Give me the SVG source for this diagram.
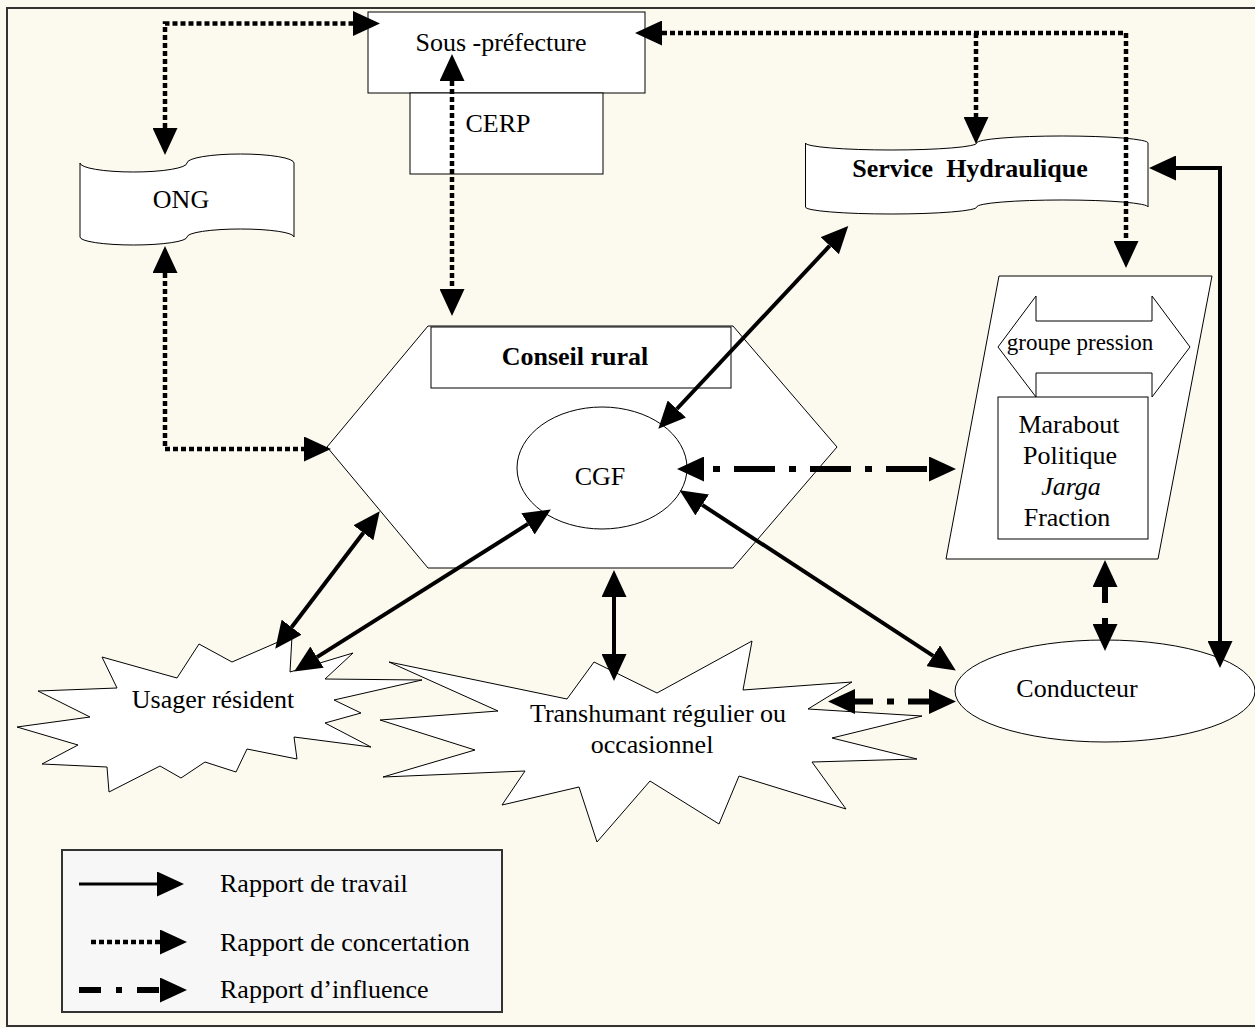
<svg xmlns="http://www.w3.org/2000/svg" width="1255" height="1028" viewBox="0 0 1255 1028">
<style>
.bg{fill:#FCFAEF}
.frame{fill:none;stroke:#333;stroke-width:2}
.node{fill:#fff;stroke:#000;stroke-width:1}
.t{font-family:"Liberation Serif","Times New Roman",serif;font-size:26px;fill:#000}
.b{font-weight:bold}
.solid{fill:none;stroke:#000;stroke-width:4}
.dot{fill:none;stroke:#000;stroke-width:4.5;stroke-dasharray:5 3}
.dd{fill:none;stroke:#000;stroke-width:6}
</style>
<defs>
<marker id="ah" markerUnits="userSpaceOnUse" markerWidth="27" markerHeight="25" refX="0" refY="12.5" orient="auto-start-reverse" viewBox="0 0 27 25">
<path d="M0,0 L27,12.5 L0,25 Z" fill="#000"/>
</marker>
</defs>
<rect class="bg" x="0" y="0" width="1255" height="1028"/>
<rect class="frame" x="7" y="8" width="1260" height="1018"/>

<g id="node-transhumant">
<polygon class="node" points="389,662 567,699 594,662 657,693 752,641 743,690 852,682 808,709 922,716 832,738 917,759 812,762 846,809 739,776 719,824 650,781 597,842 579,787 502,805 525,771 383,777 475,750 380,720 498,711"/>
<text class="t" x="658" y="722" text-anchor="middle">Transhumant régulier ou</text>
<text class="t" x="652" y="753" text-anchor="middle">occasionnel</text>
</g>

<g id="node-usager">
<polygon class="node" points="199,644 232,662 292,636 290,672 353,653 325,679 422,680 334,700 361,713 325,723 371,747 294,737 297,759 247,749 236,772 205,762 181,778 160,766 109,792 107,767 42,764 78,745 17,727 90,717 38,691 117,688 102,657 177,678"/>
<text class="t" x="213" y="708" text-anchor="middle">Usager résident</text>
</g>

<g id="node-sousprefecture">
<rect class="node" x="368" y="12" width="277" height="81"/>
<text class="t" x="501" y="51" text-anchor="middle">Sous -préfecture</text>
</g>

<g id="node-cerp">
<rect class="node" x="410" y="93" width="193" height="81"/>
<text class="t" x="498" y="132" text-anchor="middle">CERP</text>
</g>

<g id="node-ong">
<path class="node" d="M80,163 A53.5,9 0 0 0 187,163 A53.5,9 0 0 1 294,163 L294,237 A53.5,8 0 0 0 187,237 A53.5,8 0 0 1 80,237 Z"/>
<text class="t" x="181" y="208" text-anchor="middle">ONG</text>
</g>

<g id="node-service-hydraulique">
<path class="node" d="M805.5,143 A85.6,7 0 0 0 976.75,143 A85.6,7 0 0 1 1148,143 L1148,207 A85.6,7 0 0 0 976.75,207 A85.6,7 0 0 1 805.5,207 Z"/>
<text class="t b" x="970" y="177" text-anchor="middle" xml:space="preserve">Service  Hydraulique</text>
</g>

<g id="node-conseil-rural">
<polygon class="node" points="327,447 428,326 733,326 837,447 733,568 428,568"/>
<rect class="node" x="431" y="327" width="300" height="61"/>
<text class="t b" x="575" y="365" text-anchor="middle">Conseil rural</text>
</g>

<g id="node-cgf">
<ellipse class="node" cx="602" cy="468" rx="85" ry="61"/>
<text class="t" x="600" y="485" text-anchor="middle">CGF</text>
</g>

<g id="node-groupe-pression">
<polygon class="node" points="999,276 1212,276 1158,559 946,559"/>
<polygon class="node" points="998,347 1036,296 1036,321 1152,321 1152,296 1190,347 1152,397 1152,373 1036,373 1036,397"/>
<text class="t" x="1080" y="350" text-anchor="middle" style="font-size:23px">groupe pression</text>
<rect class="node" x="998" y="397" width="150" height="142"/>
<text class="t" x="1069" y="433" text-anchor="middle">Marabout</text>
<text class="t" x="1070" y="464" text-anchor="middle">Politique</text>
<text class="t" x="1071" y="495" text-anchor="middle" font-style="italic">Jarga</text>
<text class="t" x="1067" y="526" text-anchor="middle">Fraction</text>
</g>

<g id="node-conducteur">
<ellipse class="node" cx="1105" cy="691" rx="150" ry="51"/>
<text class="t" x="1077" y="697" text-anchor="middle">Conducteur</text>
</g>

<g id="connectors">
<path class="dot" d="M165,128 V23.5 H353" marker-start="url(#ah)" marker-end="url(#ah)"/>
<path class="dot" d="M165,273 V449 H304" marker-start="url(#ah)" marker-end="url(#ah)"/>
<path class="dot" d="M452,81 V289" marker-start="url(#ah)" marker-end="url(#ah)"/>
<path class="dot" d="M662,33 H1126 V241" marker-start="url(#ah)" marker-end="url(#ah)"/>
<path class="dot" d="M976,33 V117" marker-end="url(#ah)"/>
<path class="solid" d="M676.8,409 L829.8,245.7" marker-start="url(#ah)" marker-end="url(#ah)"/>
<path class="solid" d="M1176,168 H1220 V641" marker-start="url(#ah)" marker-end="url(#ah)"/>
<path class="dd" d="M704,469 H929" stroke-dasharray="7 14 41 14" stroke-dashoffset="67" marker-start="url(#ah)" marker-end="url(#ah)"/>
<path class="solid" d="M702.2,504.9 L933.2,655.8" marker-start="url(#ah)" marker-end="url(#ah)"/>
<path class="solid" d="M363.4,532.8 L291.6,627.2" marker-start="url(#ah)" marker-end="url(#ah)"/>
<path class="solid" d="M528,523.9 L317,657.1" marker-start="url(#ah)" marker-end="url(#ah)"/>
<path class="solid" d="M614,597 V654" marker-start="url(#ah)" marker-end="url(#ah)"/>
<path class="dd" d="M855,701.5 H929" stroke-dasharray="41 14 7 14" stroke-dashoffset="23" marker-start="url(#ah)" marker-end="url(#ah)"/>
<path class="dd" d="M1105,587 V624" stroke-dasharray="16 15 6 20" marker-start="url(#ah)" marker-end="url(#ah)"/>
</g>

<g id="legend">
<rect x="62" y="850" width="440" height="162" fill="#F7F7F7" stroke="#333" stroke-width="2"/>
<path d="M79,884 H157" fill="none" stroke="#000" stroke-width="3" marker-end="url(#ah)"/>
<text class="t" x="220" y="892">Rapport de travail</text>
<path d="M91,942 H160" fill="none" stroke="#000" stroke-width="4.5" stroke-dasharray="5 3" marker-end="url(#ah)"/>
<text class="t" x="220" y="951">Rapport de concertation</text>
<path d="M79,990 H160" fill="none" stroke="#000" stroke-width="6" stroke-dasharray="22 15 6 15" marker-end="url(#ah)"/>
<text class="t" x="220" y="998">Rapport d’influence</text>
</g>
</svg>
